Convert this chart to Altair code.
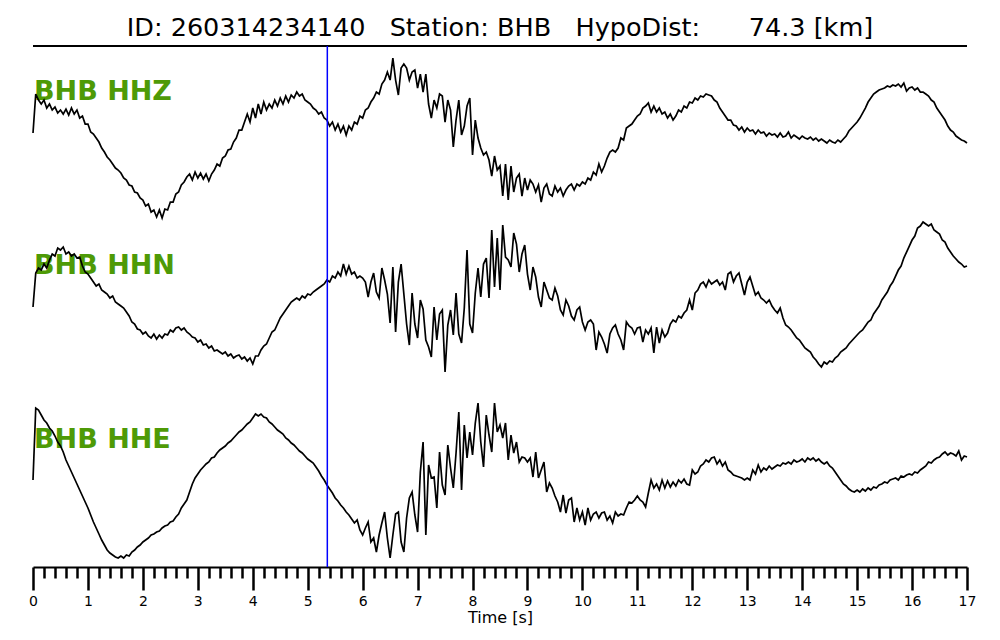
import altair as alt
import pandas as pd

TITLE = "ID: 260314234140\u00a0\u00a0\u00a0Station: BHB\u00a0\u00a0\u00a0HypoDist:\u00a0\u00a0\u00a0\u00a0\u00a0\u00a074.3 [km]"
CHANNELS = ["BHB HHZ", "BHB HHN", "BHB HHE"]
OFFSETS = [0.0, -2.0, -4.0]   # trace baselines (normalised units)
NORM = 87.0                    # counts per normalised unit
DT = 0.05                      # sample interval [s]
PICK_TIME = 5.357              # P pick [s]
X_MAX = 17

# relative amplitudes (counts), one row per second: t = s.00 ... s.95
HHZ = [
    -3, 36, 30, 26, 30, 22, 26, 20, 23, 17, 20, 16, 21, 15, 22, 16, 20, 12, 14, 6,
    6, -2, -4, -8, -12, -18, -22, -27, -30, -34, -38, -40, -43, -48, -50, -55, -56, -62, -63, -68,
    -70, -76, -74, -82, -80, -87, -80, -88, -79, -80, -72, -72, -64, -62, -55, -52, -47, -44, -50, -42,
    -48, -43, -49, -44, -51, -44, -40, -34, -36, -28, -26, -20, -19, -12, -8, 0, 0, 8, 16, 8,
    22, 12, 26, 16, 28, 20, 26, 22, 30, 24, 32, 26, 34, 28, 35, 32, 38, 34, 36, 30,
    28, 26, 22, 20, 16, 18, 12, 10, 4, 8, 0, 6, -2, 4, -5, 4, 0, 8, 6, 14,
    12, 20, 22, 28, 32, 38, 36, 46, 50, 58, 50, 72, 50, 35, 62, 66, 62, 50, 58, 60,
    42, 56, 38, 56, 26, 12, 30, 22, 36, 34, 8, 30, 20, -17, 10, 30, -5, 4, 24, 32,
    -25, 10, -8, -18, -25, -22, -30, -46, -26, -40, -36, -66, -34, -70, -36, -62, -48, -44, -66, -48,
    -60, -50, -54, -62, -55, -72, -58, -54, -64, -66, -56, -62, -58, -66, -60, -56, -54, -60, -54, -56,
    -52, -54, -48, -50, -42, -45, -34, -42, -36, -28, -22, -20, -22, -18, -8, -10, 2, 4, 6, 10,
    14, 16, 22, 24, 27, 18, 24, 18, 22, 16, 18, 12, 16, 10, 14, 20, 18, 24, 22, 28,
    27, 32, 30, 34, 33, 36, 35, 34, 30, 28, 22, 18, 14, 10, 10, 5, 4, 0, 3, -2,
    2, -1, 0, -4, 0, -3, -2, -6, -3, -5, -4, -7, -3, -7, -6, -2, -8, -5, -7, -9,
    -6, -8, -9, -7, -10, -8, -11, -9, -11, -13, -10, -12, -13, -10, -12, -9, -6, -1, 2, 5,
    8, 12, 17, 22, 28, 32, 36, 38, 40, 41, 42, 44, 43, 45, 44, 46, 43, 47, 39, 42,
    43, 40, 42, 38, 38, 36, 34, 30, 28, 22, 18, 14, 10, 4, 0, -2, -6, -8, -10, -11,
    -13,
]
HHN = [
    -3, 31, 36, 34, 40, 36, 44, 50, 48, 56, 54, 57, 50, 52, 48, 50, 46, 47, 38, 32,
    30, 26, 22, 18, 20, 14, 12, 10, 6, 8, 2, 0, -2, -4, -8, -12, -18, -20, -25, -26,
    -30, -28, -32, -34, -30, -35, -31, -34, -30, -31, -26, -28, -24, -23, -26, -24, -28, -30, -33, -34,
    -38, -36, -41, -40, -44, -42, -47, -46, -48, -50, -48, -52, -50, -54, -52, -51, -55, -53, -57, -54,
    -60, -52, -52, -46, -42, -40, -34, -28, -26, -20, -14, -10, -6, -2, 2, 4, 6, 4, 8, 6,
    10, 9, 12, 14, 16, 18, 20, 24, 22, 28, 26, 32, 28, 40, 30, 38, 30, 32, 26, 28,
    26, 22, 7, 22, 31, 12, 6, 36, 24, 10, -19, 37, -28, 22, 40, 10, -20, -41, 11, -20,
    -34, 4, -5, -36, -43, -53, -3, -36, -10, -6, -68, -21, -6, -31, 11, -30, -39, -4, 54, -20,
    -29, 11, 36, 7, 40, 46, 6, 74, 17, 66, 14, 79, 47, 44, 37, 71, 60, 32, 50, 59,
    30, 14, 37, 27, 7, -3, 22, 14, 6, 4, 16, 8, -6, -11, 4, -2, -12, -16, -6, -3,
    -18, -26, -18, -16, -20, -46, -28, -33, -40, -49, -30, -24, -21, -30, -36, -46, -18, -22, -24, -30,
    -24, -23, -38, -26, -30, -24, -49, -23, -39, -26, -33, -29, -20, -16, -18, -12, -14, -9, -6, 4,
    -6, 11, 14, 20, 22, 17, 24, 20, 22, 24, 19, 22, 14, 30, 32, 22, 28, 31, 20, 9,
    22, 27, 18, 9, 12, 6, 4, 1, 4, -2, -6, -9, -4, -14, -21, -23, -26, -30, -34, -36,
    -40, -44, -46, -48, -53, -56, -60, -63, -58, -60, -57, -58, -54, -52, -48, -46, -44, -40, -37, -34,
    -31, -28, -26, -22, -18, -16, -10, -6, -2, 4, 8, 12, 18, 22, 28, 34, 38, 46, 52, 58,
    64, 68, 76, 78, 82, 80, 78, 80, 74, 72, 70, 64, 62, 56, 52, 48, 45, 42, 40, 37,
    38,
]
HHE = [
    -2, 70, 68, 63, 58, 55, 50, 47, 42, 36, 32, 26, 18, 12, 6, 0, -6, -12, -18, -24,
    -30, -37, -44, -50, -56, -62, -67, -72, -75, -77, -79, -80, -78, -80, -77, -78, -74, -72, -69, -67,
    -64, -62, -60, -57, -56, -54, -53, -50, -48, -47, -44, -43, -39, -36, -30, -26, -22, -14, -6, 0,
    4, 8, 11, 14, 16, 20, 21, 25, 28, 30, 32, 35, 37, 40, 43, 46, 48, 51, 54, 56,
    60, 64, 62, 64, 61, 60, 56, 54, 51, 48, 46, 44, 40, 38, 35, 33, 30, 27, 25, 22,
    19, 17, 15, 11, 7, 2, -2, -7, -11, -15, -20, -23, -27, -30, -34, -37, -41, -45, -42, -52,
    -57, -50, -44, -64, -60, -74, -57, -45, -34, -60, -80, -57, -36, -34, -64, -74, -40, -20, -14, -37,
    -54, 6, 36, -57, 13, 0, 1, -30, 26, -7, -17, 33, 10, -10, 25, 66, -12, 53, 20, 46,
    23, 55, 75, 36, 11, 63, 43, 26, 75, 46, 53, 40, 55, 18, 43, 25, 36, 16, 21, 20,
    16, 20, 1, 26, 0, 8, 16, -14, -5, -10, -18, -24, -34, -17, -35, -22, -20, -44, -30, -42,
    -34, -47, -30, -42, -36, -34, -40, -35, -34, -42, -38, -45, -34, -38, -36, -37, -30, -24, -25, -22,
    -18, -22, -24, -29, -15, -2, -10, -6, -12, -2, -10, -3, -9, -4, -8, -2, -5, -1, -6, -7,
    8, 4, 6, 12, 14, 18, 16, 20, 21, 14, 18, 12, 16, 8, 6, 3, 2, 1, 0, -2,
    0, -2, 8, 4, 13, 6, 10, 8, 12, 9, 11, 13, 12, 15, 14, 16, 14, 18, 16, 17,
    19, 16, 20, 18, 20, 17, 19, 16, 14, 16, 12, 10, 6, 2, -2, -6, -8, -11, -13, -14,
    -12, -14, -11, -13, -10, -12, -9, -10, -7, -6, -4, -5, -2, -1, 0, -2, 2, 1, 3, 4,
    3, 6, 5, 8, 10, 12, 16, 15, 18, 20, 21, 24, 26, 23, 25, 24, 22, 27, 18, 22,
    21,
]

Y_TOP = 0.966
Y_BOTTOM = -5.023
LABEL_RAISE = 0.345

rows = []
for name, off, vals in zip(CHANNELS, OFFSETS, [HHZ, HHN, HHE]):
    for i, v in enumerate(vals):
        rows.append({"channel": name, "i": i, "t": round(i * DT, 3), "y": off + v / NORM})
traces = pd.DataFrame(rows)
labels = pd.DataFrame({"channel": CHANNELS, "t": [0.0] * 3,
                       "y": [o + LABEL_RAISE for o in OFFSETS]})
top_line = pd.DataFrame({"t": [0.0], "t2": [float(X_MAX)], "y": [Y_TOP]})
pick = pd.DataFrame({"t": [PICK_TIME], "y": [Y_TOP], "y2": [Y_BOTTOM]})

tick_vals = [round(i * 0.2, 1) for i in range(X_MAX * 5 + 1)]
is_major = "abs(datum.value - round(datum.value)) < 0.001"

x_scale = alt.Scale(domain=[0, X_MAX], nice=False, zero=False)
y_scale = alt.Scale(domain=[Y_BOTTOM, Y_TOP], nice=False, zero=False)

x_axis = alt.Axis(
    values=tick_vals,
    title="Time [s]",
    titleFont="DejaVu Sans", titleFontSize=16, titleFontWeight="normal",
    titleColor="black", titlePadding=1,
    labelFont="DejaVu Sans", labelFontSize=14, labelColor="black",
    labelExpr=f"{is_major} ? format(datum.value, 'd') : ''",
    labelOverlap=False, labelFlush=False, labelPadding=4,
    tickSize={"condition": {"test": is_major, "value": 23}, "value": 11},
    tickWidth=2.5, tickColor="black",
    domainColor="black", domainWidth=2,
    grid=False,
)

X = alt.X("t:Q", scale=x_scale, axis=x_axis)
Y = alt.Y("y:Q", scale=y_scale, axis=None)

label_layer = alt.Chart(labels).mark_text(
    align="left", baseline="alphabetic", font="DejaVu Sans", fontSize=27,
    fontWeight="bold", color="#4e9a06", dx=1
).encode(x=X, y=Y, text="channel:N")

trace_layer = alt.Chart(traces).mark_line(color="black", strokeWidth=1.7).encode(
    x=X, y=Y, detail="channel:N", order="i:Q"
)

top_rule = alt.Chart(top_line).mark_rule(color="black", strokeWidth=2).encode(
    x=X, x2="t2:Q", y=Y
)

pick_rule = alt.Chart(pick).mark_rule(color="#0000ff", strokeWidth=1.5).encode(
    x=X, y=Y, y2="y2:Q"
)

chart = alt.layer(label_layer, trace_layer, top_rule, pick_rule).properties(
    width=934, height=521,
    padding={"left": 25, "top": 38, "right": 25, "bottom": 65},
    autosize=alt.AutoSizeParams(type="none"),
    title=alt.TitleParams(text=TITLE, font="DejaVu Sans", fontSize=25.5,
                          fontWeight="normal", color="black", anchor="middle",
                          frame="group", offset=4),
    background="white",
).configure_view(stroke=None)

chart.save("out.html", embed_options={"renderer": "svg", "actions": False})
